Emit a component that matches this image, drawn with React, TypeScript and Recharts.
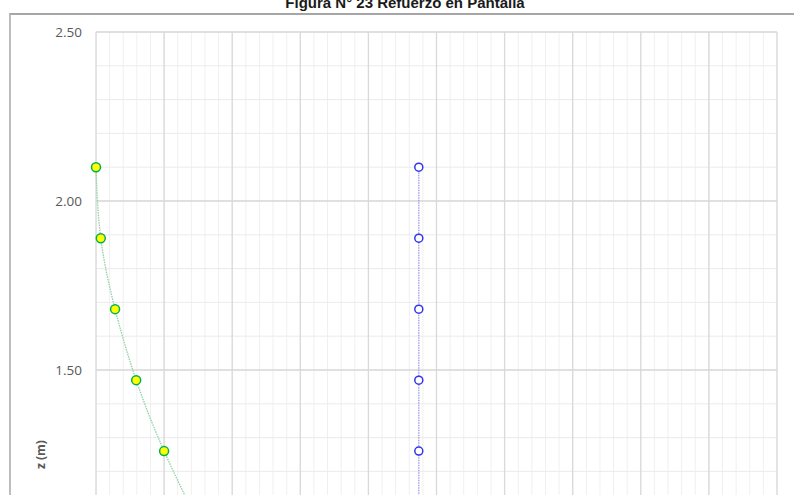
import { CartesianGrid, Label, ReferenceLine, Scatter, ScatterChart, XAxis, YAxis } from 'recharts'

// depth of each section (m)
const zLevels = [2.1, 1.89, 1.68, 1.47, 1.26, 1.05]
// required steel at each depth (last one is below the visible area)
const requiredSteel = [0, 0.07, 0.28, 0.59, 1.0, 1.5]
// steel provided, constant along the wall
const providedSteel = [4.74, 4.74, 4.74, 4.74, 4.74, 4.74]

const xMajorTicks = [0, 1, 2, 3, 4, 5, 6, 7, 8, 9, 10]
const yMajorTicks = [0, 0.5, 1, 1.5, 2, 2.5]
const xMinorTicks = Array.from({ length: 51 }, (_, i) => +(i * 0.2).toFixed(1))
const yMinorTicks = Array.from({ length: 26 }, (_, i) => +(i * 0.1).toFixed(1))

const requiredData = zLevels.map((z, i) => ({ x: requiredSteel[i], z }))
const providedData = zLevels.map((z, i) => ({ x: providedSteel[i], z }))

const greenDot = (p: any) => (
  <circle cx={p.cx} cy={p.cy} r={4.5} fill="#ffff00" stroke="#00b050" strokeWidth={1.5} />
)
const blueDot = (p: any) => (
  <circle cx={p.cx} cy={p.cy} r={4} fill="#ffffff" stroke="#3333ee" strokeWidth={1.5} />
)

export default function App() {
  return (
    <div style={{ position: 'absolute', left: 0, top: 0, width: 794, height: 495, overflow: 'hidden', background: '#fff' }}>
      <div
        style={{
          position: 'absolute',
          left: 0,
          top: -6,
          width: 810,
          textAlign: 'center',
          font: 'bold 15px "Liberation Sans", Arial, sans-serif',
          color: '#1a1a1a',
          lineHeight: '18px',
        }}
      >
        Figura N° 23 Refuerzo en Pantalla
      </div>
      <div
        style={{
          position: 'absolute',
          left: 9,
          top: 13,
          width: 820,
          height: 900,
          borderTop: '2px solid #a6a6a6',
          borderLeft: '2px solid #bdbdbd',
        }}
      />
      <div style={{ position: 'absolute', left: 0, top: 0 }}>
        <ScatterChart width={794} height={897} margin={{ top: 32, right: 17, left: 0, bottom: 20 }}>
          <CartesianGrid stroke="none" />
          <XAxis type="number" dataKey="x" domain={[0, 10]} ticks={xMajorTicks} hide />
          <YAxis
            type="number"
            dataKey="z"
            domain={[0, 2.5]}
            ticks={yMajorTicks}
            width={96}
            axisLine={false}
            tickLine={false}
            tickSize={0}
            tickMargin={14}
            tickFormatter={(v: number) => (v === 0 ? '' : v.toFixed(2))}
            tick={{ fontSize: 13.5, fill: '#595959', fontFamily: '"Open Sans", sans-serif' }}
          >
            <Label
              content={(props: any) => {
                const vb = props.viewBox
                const cy = vb.y + vb.height / 2
                return (
                  <text
                    x={40}
                    y={cy}
                    transform={`rotate(-90 40 ${cy})`}
                    textAnchor="middle"
                    dominantBaseline="central"
                    fontSize={12}
                    fontWeight="bold"
                    fill="#595959"
                    fontFamily='"Open Sans", sans-serif'
                  >
                    z (m)
                  </text>
                )
              }}
            />
          </YAxis>
          {xMinorTicks.map((v) => (
            <ReferenceLine key={'xm' + v} x={v} stroke="#f0f0f0" strokeWidth={1} />
          ))}
          {yMinorTicks.map((v) => (
            <ReferenceLine key={'ym' + v} y={v} stroke="#ebebeb" strokeWidth={1} />
          ))}
          {xMajorTicks.map((v) => (
            <ReferenceLine key={'xM' + v} x={v} stroke="#d9d9d9" strokeWidth={1.3} />
          ))}
          {yMajorTicks.map((v) => (
            <ReferenceLine key={'yM' + v} y={v} stroke="#d9d9d9" strokeWidth={1.3} />
          ))}
          <Scatter
            data={requiredData}
            line={{ stroke: '#8fd1a8', strokeWidth: 1.3, strokeDasharray: '1.5 1' }}
            lineJointType="natural"
            shape={greenDot}
            isAnimationActive={false}
          />
          <Scatter
            data={providedData}
            line={{ stroke: '#9c9ce0', strokeWidth: 1.3, strokeDasharray: '1.5 1' }}
            shape={blueDot}
            isAnimationActive={false}
          />
        </ScatterChart>
      </div>
    </div>
  )
}
